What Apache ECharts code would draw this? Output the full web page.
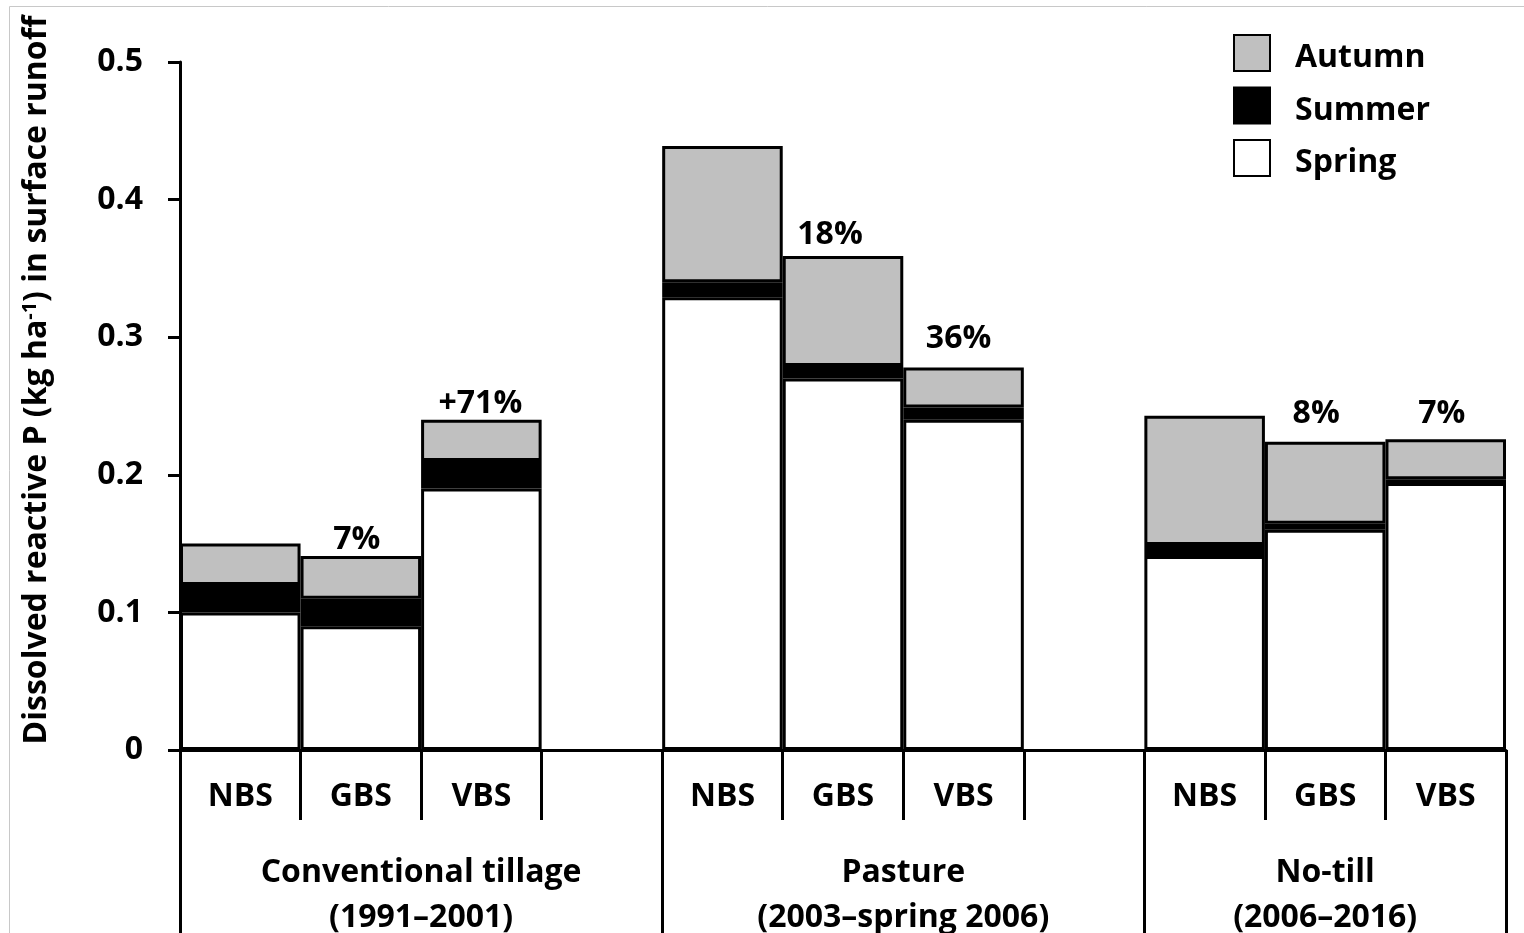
<!DOCTYPE html>
<html>
<head>
<meta charset="utf-8">
<script src="https://cdn.jsdelivr.net/npm/echarts@6/dist/echarts.min.js"></script>
<style>
html,body{margin:0;padding:0;background:#fff;}
#chart{width:1524px;height:933px;}
</style>
</head>
<body>
<div id="chart"></div>
<script>
// ---- data ----
const categories = ['NBS','GBS','VBS','','NBS','GBS','VBS','','NBS','GBS','VBS'];
const springValues = [0.100, 0.090, 0.190, null, 0.329, 0.270, 0.240, null, 0.141, 0.160, 0.194];
const summerValues = [0.020, 0.020, 0.020, null, 0.011, 0.009, 0.009, null, 0.008, 0.0045, 0.0028];
const autumnValues = [0.030, 0.031, 0.030, null, 0.099, 0.080, 0.029, null, 0.094, 0.0595, 0.029];
const pctLabels = ['', '7%', '+71%', '', '', '18%', '36%', '', '', '8%', '7%'];
const groupNames = ['Conventional tillage\n(1991–2001)', 'Pasture\n(2003–spring 2006)', 'No-till\n(2006–2016)'];
const groupStart = [0, 4, 8];
const groupSlots = [4, 4, 3];
const yTicks = [0, 0.1, 0.2, 0.3, 0.4, 0.5];

// ---- layout tweaks for the percent labels (pixel nudges, not data) ----
const labelNudge = [[0,0],[-4,4],[-1,4],[0,0],[0,0],[-13,-1],[-5,-9],[0,0],[0,0],[-9,-8],[-4,-5]];

const FONT = '"Open Sans"';
const FS = 32;
const chart = echarts.init(document.getElementById('chart'));

const groupBoundaries = groupStart.map(s => s - 0.5);
groupBoundaries.push(groupStart[groupStart.length - 1] + groupSlots[groupSlots.length - 1] - 0.5);
const groupCenters = groupStart.map((s, i) => s - 0.5 + groupSlots[i] / 2);

const common = {
  type: 'bar', stack: 'total', barCategoryGap: '0%', barGap: '0%',
  xAxisIndex: 0, yAxisIndex: 0
};

chart.setOption({
  animation: false,
  backgroundColor: '#fff',
  textStyle: { fontFamily: FONT, fontWeight: 'bold', color: '#000' },
  graphic: [{
    type: 'rect', silent: true, z: -1,
    shape: { x: 9.5, y: 6.5, width: 1600, height: 1000 },
    style: { fill: 'none', stroke: '#c8c8c8', lineWidth: 1 }
  }],
  legend: {
    orient: 'vertical', left: 1233, top: 32, padding: 0,
    itemWidth: 36, itemHeight: 36, itemGap: 10.5,
    data: ['Autumn', 'Summer', 'Spring'],
    icon: 'rect',
    itemStyle: { borderColor: '#000', borderWidth: 2 },
    formatter: (name) => '{t|' + name + '}',
    textStyle: {
      fontFamily: FONT, fontWeight: 'bold', fontSize: FS, color: '#000', padding: [0, 0, 0, 20],
      rich: { t: { fontFamily: FONT, fontWeight: 'bold', fontSize: FS, color: '#000', lineHeight: 36, padding: [10, 0, 0, 0] } }
    }
  },
  grid: { left: 180, right: 18, top: 62, bottom: 183, containLabel: false, outerBoundsMode: 'none' },
  xAxis: [{
    type: 'category', data: categories, position: 'bottom',
    axisLine: { show: true, onZero: false, lineStyle: { color: '#000', width: 3 } },
    axisTick: { show: true, length: 70, lineStyle: { color: '#000', width: 3 } },
    axisLabel: { fontFamily: FONT, fontWeight: 'bold', fontSize: FS, lineHeight: 32, color: '#000', margin: 31, interval: 0 }
  }, {
    type: 'value', position: 'bottom', gridIndex: 0,
    min: -0.5, max: categories.length - 0.5,
    axisLine: { show: false, onZero: false },
    splitLine: { show: false },
    axisTick: { show: true, length: 183, customValues: groupBoundaries, lineStyle: { color: '#000', width: 3 } },
    axisLabel: {
      customValues: groupCenters, fontFamily: FONT, fontWeight: 'bold', fontSize: FS, color: '#000',
      margin: 100, lineHeight: 45,
      formatter: (v) => { const i = groupCenters.findIndex(c => Math.abs(c - v) < 1e-6); return i >= 0 ? groupNames[i] : ''; }
    }
  }],
  yAxis: {
    type: 'value', min: 0, max: 0.5, interval: 0.1,
    name: '{a|Dissolved reactive P (kg ha}{s|-1}{a|) in surface runoff}',
    nameLocation: 'middle', nameGap: 126, nameRotate: 90,
    nameTextStyle: {
      padding: [0, 0, 0, 52],
      rich: {
        a: { fontFamily: FONT, fontWeight: 'bold', fontSize: FS, color: '#000' },
        s: { fontFamily: FONT, fontWeight: 'bold', fontSize: 20, color: '#000', verticalAlign: 'top', padding: [0, 0, 14, 0] }
      }
    },
    axisLine: { show: true, onZero: false, lineStyle: { color: '#000', width: 3 } },
    axisTick: { show: true, length: 12, lineStyle: { color: '#000', width: 3 } },
    splitLine: { show: false },
    axisLabel: { fontFamily: FONT, fontWeight: 'bold', fontSize: FS, color: '#000', margin: 37,
      formatter: (v) => { const t = yTicks.find(x => Math.abs(x - v) < 1e-9); return t === 0 ? '0' : String(t); } }
  },
  series: [{
    ...common, name: 'Spring', data: springValues,
    itemStyle: { color: '#ffffff', borderColor: '#000', borderWidth: 3 }
  }, {
    ...common, name: 'Summer', data: summerValues,
    itemStyle: { color: '#000000', borderColor: '#000', borderWidth: 3 }
  }, {
    ...common, name: 'Autumn',
    data: autumnValues.map((v, i) => ({ value: v, label: { offset: labelNudge[i] } })),
    itemStyle: { color: '#c0c0c0', borderColor: '#000', borderWidth: 3 },
    label: {
      show: true, position: 'top', distance: 4,
      fontFamily: FONT, fontWeight: 'bold', fontSize: FS, lineHeight: 32, color: '#000',
      formatter: (p) => pctLabels[p.dataIndex]
    }
  }]
});
</script>
</body>
</html>
